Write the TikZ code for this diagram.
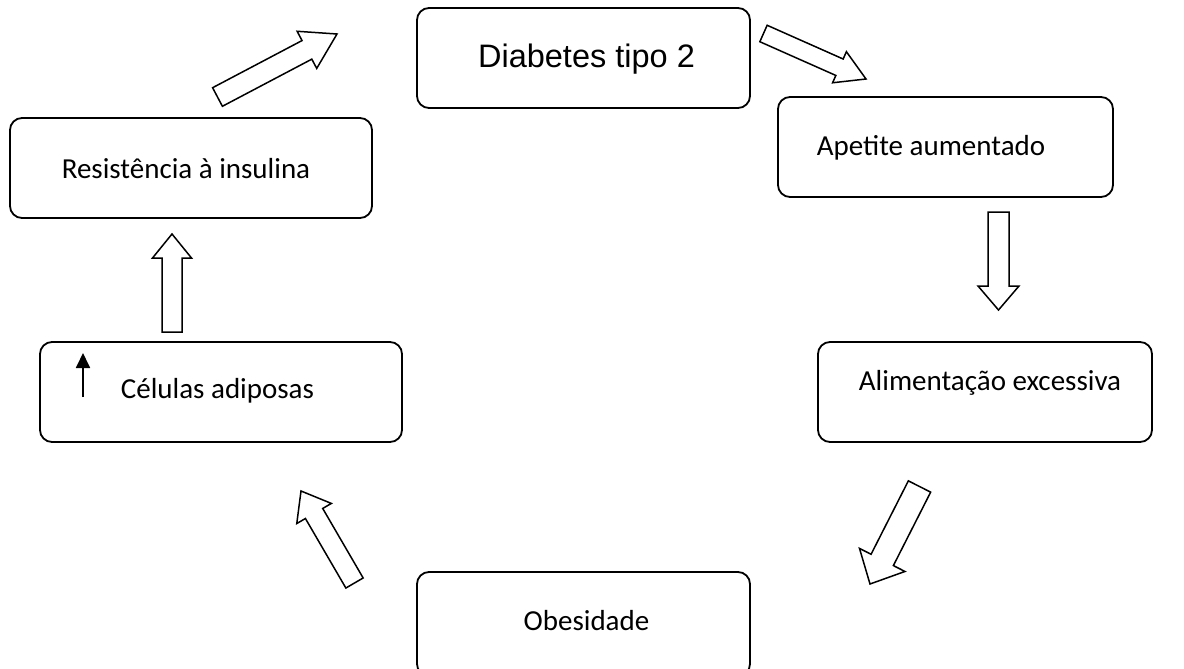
\documentclass[tikz,border=0pt]{standalone}
\usepackage{fontspec}
\setmainfont{Carlito}
\newfontfamily\arialfont{Liberation Sans}
\usetikzlibrary{calc,arrows.meta}

% hollow block arrow: tail, tip, half shaft, half head, head length
\newcommand{\fatarrow}[5]{%
  \coordinate (fab) at ($(#2)!#5!(#1)$);
  \draw[fatline] ($(#1)!#3!90:(#2)$) -- ($(fab)!#3!-90:(#1)$) -- ($(fab)!#4!-90:(#1)$)
    -- (#2) -- ($(fab)!#4!90:(#1)$) -- ($(fab)!#3!90:(#1)$) -- ($(#1)!#3!-90:(#2)$) -- cycle;}

\tikzset{
  box/.style={draw, line width=1.8pt, rounded corners=12pt, inner sep=0pt},
  boxtext/.style={anchor=base, inner sep=0pt, font=\fontsize{29}{34}\selectfont},
  fatline/.style={line width=1.5pt, line join=miter, fill=white}
}

\begin{document}
\begin{tikzpicture}[x=1pt,y=-1pt]
	\useasboundingbox (0,0) rectangle (1184,669);
	% boxes
	\node[box, minimum width=333pt, minimum height=100pt] (diab) at (583.5,58) {};
	\node[box, minimum width=335pt, minimum height=100pt] (apet) at (945.5,147) {};
	\node[box, minimum width=334pt, minimum height=100pt] (alim) at (985,392) {};
	\node[box, minimum width=333pt, minimum height=104pt] (obes) at (583.5,624) {};
	\node[box, minimum width=362pt, minimum height=100pt] (celu) at (221,392) {};
	\node[box, minimum width=362pt, minimum height=100pt] (resi) at (191,168) {};
	% texts
	\node[boxtext, font=\arialfont\fontsize{32.5}{38}\selectfont] (diab-t) at ([shift={(3,9)}]diab.center) {Diabetes tipo 2};
	\node[boxtext] (apet-t) at ([shift={(-14.5,8)}]apet.center) {Apetite aumentado};
	\node[boxtext] (alim-t) at ([shift={(5,-2)}]alim.center) {Alimentação excessiva};
	\node[boxtext] (obes-t) at ([shift={(3,6)}]obes.center) {Obesidade};
	\node[boxtext] (celu-t) at ([shift={(-3.5,6)}]celu.center) {Células adiposas};
	\node[boxtext] (resi-t) at ([shift={(-5,10)}]resi.center) {Resistência à insulina};
	\draw[line width=1.8pt, -{Triangle[length=15pt,width=14pt]}] ([shift={(-138,5)}]celu.center) -- ([shift={(-138,-39)}]celu.center);
	% block arrows round the cycle
	\coordinate (a1t) at (217.5,97);  \coordinate (a1h) at (337,34);
	\coordinate (a2t) at (763.5,33.5); \coordinate (a2h) at (866,79);
	\coordinate (a3t) at (998.5,212); \coordinate (a3h) at (998.5,310);
	\coordinate (a4t) at (919.5,486.5); \coordinate (a4h) at (870,584);
	\coordinate (a5t) at (354.5,583); \coordinate (a5h) at (301,491);
	\coordinate (a6t) at (172,332);   \coordinate (a6h) at (172,234);
	\fatarrow{a1t}{a1h}{10.5pt}{21pt}{34pt}
	\fatarrow{a2t}{a2h}{9pt}{17pt}{29pt}
	\fatarrow{a3t}{a3h}{10.5pt}{20.5pt}{24pt}
	\fatarrow{a4t}{a4h}{12.5pt}{25.5pt}{27pt}
	\fatarrow{a5t}{a5h}{10pt}{20pt}{26pt}
	\fatarrow{a6t}{a6h}{10pt}{19.5pt}{24pt}
\end{tikzpicture}
\end{document}
